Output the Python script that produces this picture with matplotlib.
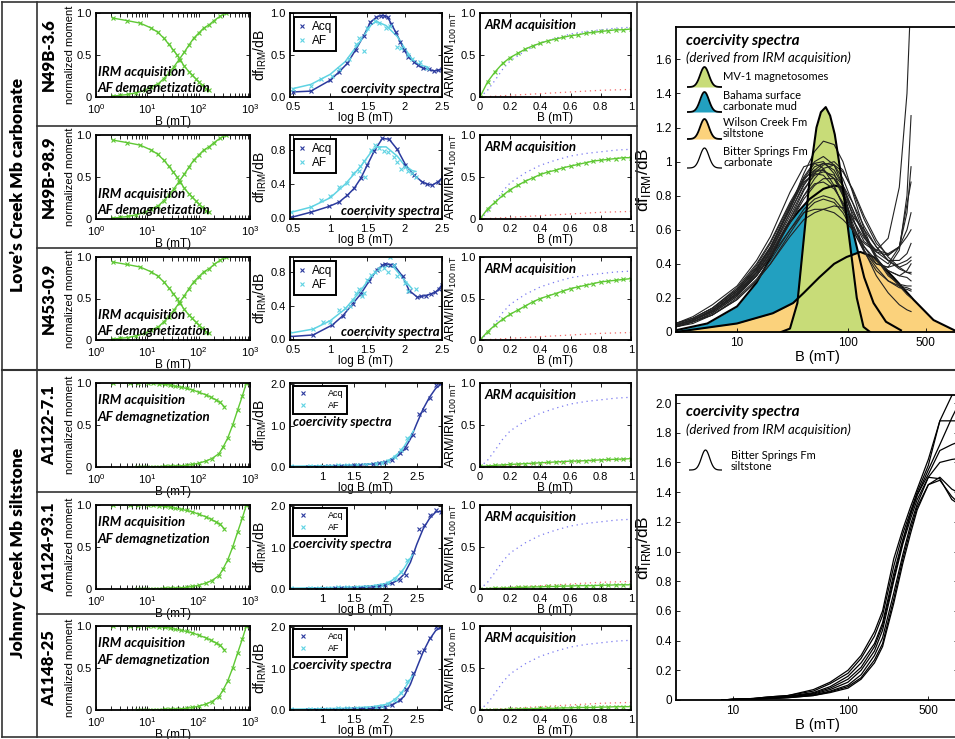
import numpy as np
import matplotlib.pyplot as plt
from matplotlib.lines import Line2D

# ---------------- data ----------------
groups = ['Love\u2019s Creek Mb carbonate', 'Johnny Creek Mb siltstone']
samples = ['N49B-3.6', 'N49B-98.9', 'N453-0.9', 'A1122-7.1', 'A1124-93.1', 'A1148-25']

# IRM acquisition / AF demagnetization (B in mT, normalized moment)
carb_irm_b = [2.1, 3, 4.2, 6, 9, 12, 16.5, 21, 26, 33, 41, 52, 65, 80, 100, 125, 160, 200, 260, 340]
carb_irm_m = [0.01, 0.02, 0.03, 0.05, 0.08, 0.12, 0.16, 0.22, 0.28, 0.36, 0.44, 0.53, 0.62, 0.70, 0.76, 0.82, 0.86, 0.91, 0.96, 1.0]
carb_af_b = [2.1, 4, 7.2, 12, 16, 21, 26, 32, 38, 44, 52, 65, 75, 87, 100, 118, 140, 160]
carb_af_m = [0.94, 0.91, 0.88, 0.82, 0.77, 0.70, 0.63, 0.56, 0.50, 0.44, 0.37, 0.30, 0.26, 0.22, 0.18, 0.14, 0.10, 0.08]
silt_irm_b = [6.2, 8, 10, 13, 17, 22, 28, 35, 45, 58, 75, 100, 137, 180, 250, 300, 365, 460, 575, 705, 850]
silt_irm_m = [0.0, 0.0, 0.0, 0.005, 0.005, 0.01, 0.01, 0.01, 0.015, 0.02, 0.03, 0.045, 0.07, 0.10, 0.16, 0.24, 0.34, 0.50, 0.68, 0.84, 1.0]
silt_af_b = [2.1, 4.5, 6.5, 10.4, 13, 17, 22, 28, 35, 45, 58, 75, 100, 137, 175, 215, 260, 315]
silt_af_m = [1.0, 1.0, 1.0, 1.0, 0.995, 0.99, 0.985, 0.975, 0.96, 0.95, 0.935, 0.92, 0.89, 0.86, 0.83, 0.80, 0.77, 0.72]

# coercivity spectra, carbonate rows (log B, df/dB)
r1_acq_x = [0.5, 0.74, 1.0, 1.12, 1.23, 1.34, 1.45, 1.54, 1.62, 1.68, 1.72, 1.77, 1.82, 1.88, 1.94, 1.99, 2.05, 2.12, 2.18, 2.25, 2.32, 2.39, 2.45, 2.5]
r1_acq_y = [0.06, 0.07, 0.20, 0.30, 0.40, 0.56, 0.73, 0.89, 0.95, 0.97, 0.97, 0.95, 0.87, 0.77, 0.66, 0.56, 0.48, 0.42, 0.38, 0.34, 0.33, 0.31, 0.32, 0.33]
r1_af_line_x = [0.5, 0.74, 1.0, 1.2, 1.4, 1.55, 1.62, 1.75, 1.9, 2.0, 2.1, 2.2, 2.3]
r1_af_line_y = [0.10, 0.15, 0.27, 0.42, 0.66, 0.86, 0.90, 0.85, 0.72, 0.58, 0.45, 0.38, 0.36]
r1_af_x = [0.5, 0.74, 0.88, 1.02, 1.12, 1.25, 1.35, 1.38, 1.45, 1.5, 1.6, 1.65, 1.75, 1.8, 1.9, 1.95, 2.05, 2.1, 2.2, 2.3]
r1_af_y = [0.10, 0.13, 0.22, 0.25, 0.33, 0.45, 0.63, 0.70, 0.55, 0.82, 0.90, 0.88, 0.82, 0.85, 0.60, 0.58, 0.50, 0.45, 0.42, 0.35]

r2_acq_x = [0.48, 0.74, 0.99, 1.12, 1.23, 1.32, 1.41, 1.5, 1.59, 1.7, 1.79, 1.9, 2.01, 2.12, 2.23, 2.3, 2.37, 2.45, 2.52]
r2_acq_y = [0.01, 0.07, 0.14, 0.19, 0.27, 0.35, 0.47, 0.63, 0.79, 0.94, 0.93, 0.81, 0.63, 0.51, 0.43, 0.40, 0.39, 0.43, 0.49]
r2_af_line_x = [0.48, 0.74, 1.0, 1.2, 1.4, 1.55, 1.62, 1.75, 1.9, 2.0, 2.1, 2.15]
r2_af_line_y = [0.07, 0.13, 0.24, 0.40, 0.60, 0.78, 0.84, 0.84, 0.73, 0.62, 0.56, 0.55]
r2_af_x = [0.48, 0.74, 0.88, 1.0, 1.12, 1.22, 1.3, 1.38, 1.4, 1.45, 1.47, 1.55, 1.6, 1.65, 1.72, 1.78, 1.85, 1.9, 1.95, 2.0, 2.05, 2.1, 2.15]
r2_af_y = [0.07, 0.13, 0.21, 0.26, 0.37, 0.42, 0.53, 0.55, 0.62, 0.67, 0.48, 0.80, 0.86, 0.83, 0.79, 0.78, 0.72, 0.66, 0.58, 0.60, 0.55, 0.53, 0.48]

r3_acq_x = [0.45, 0.77, 1.03, 1.17, 1.3, 1.41, 1.52, 1.63, 1.7, 1.74, 1.8, 1.85, 1.97, 2.06, 2.17, 2.22, 2.28, 2.35, 2.41, 2.46, 2.5]
r3_acq_y = [0.03, 0.05, 0.17, 0.28, 0.42, 0.54, 0.69, 0.83, 0.88, 0.90, 0.89, 0.89, 0.75, 0.58, 0.50, 0.51, 0.52, 0.54, 0.56, 0.60, 0.65]
r3_af_line_x = [0.45, 0.77, 1.0, 1.2, 1.4, 1.55, 1.7, 1.85, 2.0, 2.1]
r3_af_line_y = [0.07, 0.12, 0.22, 0.36, 0.57, 0.75, 0.88, 0.86, 0.70, 0.60]
r3_af_x = [0.45, 0.77, 0.9, 1.0, 1.12, 1.2, 1.27, 1.3, 1.35, 1.38, 1.42, 1.45, 1.5, 1.55, 1.6, 1.65, 1.72, 1.78, 1.8, 1.85, 1.9, 2.0, 2.05, 2.15]
r3_af_y = [0.07, 0.12, 0.20, 0.20, 0.35, 0.37, 0.40, 0.47, 0.55, 0.60, 0.52, 0.55, 0.70, 0.76, 0.80, 0.84, 0.85, 0.80, 0.98, 0.88, 0.75, 0.67, 0.58, 0.60]

# coercivity spectra, siltstone rows
silt_acq_x = [0.5, 0.78, 0.9, 1.0, 1.1, 1.2, 1.3, 1.4, 1.5, 1.6, 1.7, 1.8, 1.9, 2.0, 2.1, 2.24, 2.33, 2.44, 2.53, 2.61, 2.71, 2.81, 2.88]
r4_acq_y = [0.0, 0.0, 0.01, 0.01, 0.02, 0.02, 0.03, 0.03, 0.04, 0.05, 0.06, 0.07, 0.09, 0.12, 0.18, 0.33, 0.47, 0.78, 1.29, 1.37, 1.67, 1.98, 2.02]
r5_acq_y = [0.0, 0.0, 0.0, 0.01, 0.01, 0.02, 0.02, 0.02, 0.03, 0.03, 0.04, 0.05, 0.07, 0.09, 0.14, 0.22, 0.35, 0.90, 1.45, 1.55, 1.80, 1.90, 1.86]
r6_acq_y = [0.0, 0.0, 0.0, 0.0, 0.01, 0.01, 0.01, 0.02, 0.02, 0.03, 0.03, 0.04, 0.06, 0.08, 0.12, 0.25, 0.50, 0.90, 1.40, 1.45, 1.75, 2.0, 2.0]
silt_acq_line_x = [0.5, 1.0, 1.5, 1.8, 2.0, 2.1, 2.2, 2.3, 2.4, 2.5, 2.6, 2.7, 2.8, 2.9]
r4_acq_line_y = [0.0, 0.01, 0.04, 0.07, 0.12, 0.18, 0.27, 0.42, 0.68, 1.05, 1.40, 1.68, 1.90, 2.02]
r5_acq_line_y = [0.0, 0.01, 0.03, 0.05, 0.09, 0.14, 0.21, 0.36, 0.65, 1.08, 1.45, 1.70, 1.86, 1.88]
r6_acq_line_y = [0.0, 0.0, 0.02, 0.04, 0.08, 0.12, 0.20, 0.33, 0.62, 1.02, 1.40, 1.70, 1.92, 2.01]
silt_af_line_x = [0.5, 1.0, 1.5, 1.8, 2.0, 2.1, 2.2, 2.3, 2.4, 2.45]
silt_af_line_y = [0.02, 0.03, 0.05, 0.08, 0.13, 0.20, 0.32, 0.50, 0.75, 0.88]
silt_af_x = [0.5, 0.8, 0.95, 1.1, 1.25, 1.4, 1.55, 1.7, 1.85, 1.95, 2.05, 2.15, 2.25, 2.35]
silt_af_y = [0.02, 0.02, 0.03, 0.03, 0.04, 0.04, 0.05, 0.06, 0.08, 0.10, 0.15, 0.25, 0.40, 0.70]

# ARM acquisition (B in mT, ARM/IRM100mT)
arm_b = [0, 0.05, 0.1, 0.15, 0.2, 0.25, 0.3, 0.35, 0.4, 0.45, 0.5, 0.55, 0.6, 0.65, 0.7, 0.75, 0.8, 0.85, 0.9, 0.95, 1.0]
arm_r1 = [0, 0.18, 0.30, 0.40, 0.47, 0.52, 0.57, 0.61, 0.64, 0.67, 0.69, 0.71, 0.73, 0.74, 0.76, 0.77, 0.78, 0.79, 0.80, 0.80, 0.81]
arm_r2 = [0, 0.12, 0.20, 0.28, 0.35, 0.40, 0.45, 0.49, 0.53, 0.56, 0.58, 0.61, 0.63, 0.65, 0.67, 0.69, 0.70, 0.71, 0.72, 0.73, 0.73]
arm_r3 = [0, 0.10, 0.18, 0.25, 0.31, 0.36, 0.41, 0.46, 0.50, 0.53, 0.56, 0.59, 0.62, 0.64, 0.66, 0.68, 0.70, 0.71, 0.72, 0.73, 0.74]
arm_r4 = [0.01, 0.01, 0.02, 0.025, 0.03, 0.035, 0.04, 0.045, 0.05, 0.055, 0.06, 0.065, 0.07, 0.072, 0.075, 0.08, 0.085, 0.09, 0.092, 0.095, 0.1]
arm_r5 = [0.0, 0.005, 0.01, 0.01, 0.015, 0.02, 0.02, 0.025, 0.025, 0.03, 0.03, 0.035, 0.035, 0.04, 0.04, 0.04, 0.045, 0.045, 0.05, 0.05, 0.05]
arm_r6 = [0.0, 0.0, 0.005, 0.005, 0.01, 0.01, 0.015, 0.015, 0.02, 0.02, 0.02, 0.025, 0.025, 0.03, 0.03, 0.03, 0.035, 0.035, 0.04, 0.04, 0.04]
ref_blue_b = [0, 0.05, 0.1, 0.15, 0.2, 0.3, 0.4, 0.5, 0.6, 0.7, 0.8, 0.9, 1.0]
ref_blue = [0, 0.08, 0.20, 0.33, 0.43, 0.55, 0.64, 0.70, 0.75, 0.78, 0.80, 0.82, 0.83]
ref_red_b = [0, 0.2, 0.4, 0.6, 0.8, 1.0]
ref_red = [0, 0.02, 0.04, 0.06, 0.08, 0.09]

# big panel, carbonate: reference spectra (B in mT)
mv1_b = [25, 30, 35, 40, 46, 52, 57, 63, 69, 76, 83, 91, 105, 120, 138, 158]
mv1_y = [0.0, 0.02, 0.17, 0.55, 0.95, 1.20, 1.29, 1.32, 1.27, 1.16, 1.0, 0.82, 0.50, 0.20, 0.03, 0.0]
bahama_b = [2.8, 5.4, 10, 15, 21, 28, 36, 45, 60, 75, 88, 100, 112, 124, 140, 170, 220, 300]
bahama_y = [0.01, 0.05, 0.15, 0.29, 0.46, 0.62, 0.71, 0.78, 0.84, 0.86, 0.85, 0.72, 0.58, 0.46, 0.32, 0.17, 0.06, 0.01]
wilson_b = [2.8, 10, 21, 32, 40, 55, 75, 97, 129, 170, 257, 389, 590, 910]
wilson_y = [0.0, 0.05, 0.11, 0.17, 0.23, 0.32, 0.40, 0.44, 0.47, 0.44, 0.32, 0.19, 0.07, 0.01]

carb_grid = [2.8, 4, 6, 10, 15, 20, 30, 40, 50, 60, 75, 90, 110, 140, 180, 230, 290, 340, 370]
carb_curves = [
    [0.05, 0.08, 0.14, 0.25, 0.38, 0.50, 0.72, 0.90, 0.99, 1.00, 0.93, 0.80, 0.64, 0.47, 0.36, 0.30, 0.27, 0.26, 0.25],
    [0.04, 0.07, 0.13, 0.24, 0.37, 0.49, 0.73, 0.93, 1.06, 1.12, 1.10, 1.00, 0.82, 0.60, 0.43, 0.33, 0.28, 0.27, 0.27],
    [0.05, 0.09, 0.16, 0.27, 0.42, 0.56, 0.82, 0.97, 0.99, 0.96, 0.86, 0.74, 0.60, 0.47, 0.40, 0.38, 0.40, 0.42, 0.44],
    [0.04, 0.07, 0.12, 0.23, 0.35, 0.47, 0.70, 0.87, 0.94, 0.95, 0.90, 0.80, 0.66, 0.53, 0.48, 0.55, 0.85, 1.40, 2.00],
    [0.03, 0.06, 0.11, 0.21, 0.33, 0.45, 0.66, 0.83, 0.93, 0.98, 1.00, 0.95, 0.83, 0.66, 0.52, 0.45, 0.50, 0.70, 0.97],
    [0.04, 0.07, 0.12, 0.22, 0.34, 0.45, 0.64, 0.78, 0.86, 0.90, 0.90, 0.84, 0.72, 0.57, 0.45, 0.40, 0.50, 0.75, 0.88],
    [0.03, 0.06, 0.10, 0.20, 0.31, 0.42, 0.60, 0.72, 0.78, 0.80, 0.78, 0.72, 0.62, 0.50, 0.40, 0.38, 0.48, 0.80, 1.27],
    [0.04, 0.07, 0.12, 0.22, 0.33, 0.44, 0.60, 0.70, 0.72, 0.72, 0.70, 0.66, 0.60, 0.52, 0.47, 0.45, 0.50, 0.60, 0.70],
    [0.03, 0.05, 0.10, 0.19, 0.30, 0.40, 0.56, 0.66, 0.70, 0.72, 0.74, 0.73, 0.68, 0.60, 0.50, 0.42, 0.38, 0.40, 0.42],
    [0.05, 0.08, 0.14, 0.25, 0.39, 0.52, 0.75, 0.88, 0.93, 0.92, 0.85, 0.75, 0.62, 0.50, 0.42, 0.36, 0.33, 0.32, 0.30],
    [0.04, 0.07, 0.12, 0.23, 0.36, 0.48, 0.70, 0.86, 0.95, 0.99, 0.98, 0.90, 0.76, 0.58, 0.44, 0.34, 0.27, 0.22, 0.20],
    [0.04, 0.07, 0.13, 0.24, 0.37, 0.50, 0.74, 0.91, 1.00, 1.03, 0.98, 0.86, 0.68, 0.48, 0.33, 0.23, 0.16, 0.13, 0.12],
    [0.05, 0.08, 0.14, 0.26, 0.40, 0.53, 0.76, 0.90, 0.95, 0.95, 0.90, 0.82, 0.70, 0.57, 0.47, 0.42, 0.42, 0.46, 0.52],
    [0.03, 0.06, 0.11, 0.21, 0.33, 0.44, 0.64, 0.80, 0.90, 0.96, 0.98, 0.94, 0.84, 0.68, 0.54, 0.44, 0.38, 0.35, 0.34],
    [0.04, 0.07, 0.12, 0.22, 0.35, 0.46, 0.66, 0.80, 0.87, 0.88, 0.84, 0.76, 0.66, 0.55, 0.48, 0.46, 0.50, 0.56, 0.60],
    [0.03, 0.06, 0.10, 0.19, 0.30, 0.40, 0.58, 0.70, 0.76, 0.78, 0.76, 0.70, 0.60, 0.48, 0.38, 0.30, 0.26, 0.25, 0.24],
    [0.04, 0.07, 0.13, 0.24, 0.37, 0.49, 0.72, 0.89, 0.97, 0.99, 0.95, 0.86, 0.72, 0.56, 0.43, 0.36, 0.33, 0.36, 0.40],
    [0.04, 0.07, 0.12, 0.22, 0.35, 0.47, 0.68, 0.84, 0.92, 0.94, 0.92, 0.86, 0.76, 0.62, 0.50, 0.42, 0.37, 0.35, 0.35],
]

silt_grid = [8, 10, 15, 20, 30, 50, 70, 100, 130, 170, 200, 250, 300, 350, 400, 500, 630, 800, 1000]
silt_curves = [
    [0, 0.005, 0.01, 0.02, 0.03, 0.07, 0.12, 0.20, 0.30, 0.46, 0.60, 0.95, 1.15, 1.30, 1.42, 1.62, 1.88, 2.05, 2.20],
    [0, 0.005, 0.01, 0.02, 0.03, 0.06, 0.11, 0.18, 0.28, 0.43, 0.57, 0.90, 1.12, 1.27, 1.40, 1.58, 1.88, 1.88, 1.88],
    [0, 0.005, 0.01, 0.015, 0.025, 0.05, 0.09, 0.16, 0.25, 0.38, 0.52, 0.85, 1.08, 1.25, 1.38, 1.52, 1.68, 1.72, 1.75],
    [0, 0.004, 0.008, 0.012, 0.02, 0.04, 0.07, 0.12, 0.20, 0.33, 0.47, 0.80, 1.05, 1.22, 1.35, 1.50, 1.60, 1.62, 1.63],
    [0, 0.003, 0.006, 0.01, 0.018, 0.035, 0.06, 0.10, 0.17, 0.30, 0.42, 0.72, 0.98, 1.18, 1.32, 1.50, 1.49, 1.35, 1.30],
    [0, 0.003, 0.006, 0.01, 0.016, 0.03, 0.055, 0.09, 0.15, 0.27, 0.38, 0.68, 0.95, 1.15, 1.30, 1.45, 1.48, 1.37, 1.30],
    [0, 0.003, 0.005, 0.009, 0.015, 0.03, 0.05, 0.08, 0.14, 0.25, 0.36, 0.65, 0.92, 1.12, 1.28, 1.45, 1.50, 1.42, 1.38],
    [0, 0.004, 0.008, 0.014, 0.022, 0.045, 0.08, 0.14, 0.22, 0.36, 0.50, 0.82, 1.07, 1.25, 1.38, 1.55, 1.72, 1.90, 2.05],
]

# ---------------- style ----------------
plt.rcParams['font.family'] = ['Liberation Sans', 'DejaVu Sans']
plt.rcParams['mathtext.fontset'] = 'custom'
plt.rcParams['mathtext.rm'] = 'Liberation Sans'
hum = 'Lato'

c_green = '#5fc834'
c_acq = '#2b3a9e'
c_af = '#5fd3e3'
c_mv1 = '#c8dc78'
c_bah = '#22a0c0'
c_wil = '#fbd27c'

W, H = 955, 739
fig = plt.figure(figsize=(W / 100, H / 100), dpi=100)


def box(x0, y0, x1, y1):
    return [x0 / W, 1 - y1 / H, (x1 - x0) / W, (y1 - y0) / H]


def style(ax, fs=8):
    for s in ax.spines.values():
        s.set_linewidth(1.3)
    ax.tick_params(direction='in', which='both', top=True, right=True,
                   labelsize=fs, length=3, width=0.6)
    ax.tick_params(axis='x', pad=3.5)
    ax.tick_params(axis='y', pad=3)


def hline(x0, x1, y, lw=1.2, color='#333333'):
    fig.add_artist(Line2D([x0 / W, x1 / W], [1 - y / H, 1 - y / H], color=color, lw=lw))


def vline(x, y0, y1, lw=1.2, color='#333333'):
    fig.add_artist(Line2D([x / W, x / W], [1 - y0 / H, 1 - y1 / H], color=color, lw=lw))


rows = [(13, 97), (135, 219), (257, 340), (383, 467), (505, 589), (626, 710)]
col1 = (96, 250)
col2 = (290, 442)
col3 = (480, 631)

cs_data = [
    (r1_acq_x, r1_acq_y, r1_acq_x, r1_acq_y, r1_af_line_x, r1_af_line_y, r1_af_x, r1_af_y),
    (r2_acq_x, r2_acq_y, r2_acq_x, r2_acq_y, r2_af_line_x, r2_af_line_y, r2_af_x, r2_af_y),
    (r3_acq_x, r3_acq_y, r3_acq_x, r3_acq_y, r3_af_line_x, r3_af_line_y, r3_af_x, r3_af_y),
    (silt_acq_x, r4_acq_y, silt_acq_line_x, r4_acq_line_y, silt_af_line_x, silt_af_line_y, silt_af_x, silt_af_y),
    (silt_acq_x, r5_acq_y, silt_acq_line_x, r5_acq_line_y, silt_af_line_x, silt_af_line_y, silt_af_x, silt_af_y),
    (silt_acq_x, r6_acq_y, silt_acq_line_x, r6_acq_line_y, silt_af_line_x, silt_af_line_y, silt_af_x, silt_af_y),
]
arm_rows = [arm_r1, arm_r2, arm_r3, arm_r4, arm_r5, arm_r6]

for i, (y0, y1) in enumerate(rows):
    carb = i < 3

    # --- IRM acquisition / AF demag
    ax = fig.add_axes(box(col1[0], y0, col1[1], y1))
    if carb:
        ib, im, ab, am = carb_irm_b, carb_irm_m, carb_af_b, carb_af_m
    else:
        ib, im, ab, am = silt_irm_b, silt_irm_m, silt_af_b, silt_af_m
    ax.plot(ib, im, '-x', color=c_green, lw=1, ms=3.5, mew=0.8)
    ax.plot(ab, am, '-x', color=c_green, lw=1, ms=3.5, mew=0.8)
    ax.set_xscale('log')
    ax.set_xlim(1, 1000)
    ax.set_ylim(0, 1)
    ax.set_yticks([0, 0.5, 1.0])
    ax.set_yticklabels(['0', '0.5', '1.0'])
    style(ax)
    ax.set_xlabel('B (mT)', fontsize=8.5, labelpad=0)
    ax.set_ylabel('normalized moment', fontsize=8, labelpad=1)
    if carb:
        ty1, ty2 = 0.30, 0.11
    else:
        ty1, ty2 = 0.80, 0.60
    ax.text(0.01, ty1, 'IRM acquisition', transform=ax.transAxes, fontsize=9.5,
            family=hum, weight='bold', style='italic', va='center')
    ax.text(0.01, ty2, 'AF demagnetization', transform=ax.transAxes, fontsize=9.5,
            family=hum, weight='bold', style='italic', va='center')

    # --- coercivity spectra
    ax = fig.add_axes(box(col2[0], y0, col2[1], y1))
    mx, my, lx, ly, afl_x, afl_y, afx, afy = cs_data[i]
    ax.plot(lx, ly, '-', color=c_acq, lw=1.1)
    ax.plot(afl_x, afl_y, '-', color=c_af, lw=1.1)
    ax.plot(mx, my, 'x', color=c_acq, ms=3.5, mew=0.8, label='Acq')
    ax.plot(afx, afy, 'x', color=c_af, ms=3.5, mew=0.8, label='AF')
    style(ax)
    if carb:
        ax.set_xlim(0.46, 2.5)
        ax.set_xticks([0.5, 1, 1.5, 2, 2.5])
        ax.set_xticklabels(['0.5', '1', '1.5', '2', '2.5'])
        if i == 0:
            ax.set_ylim(0, 1.0)
            ax.set_yticks([0, 0.5, 1.0])
            ax.set_yticklabels(['0.0', '0.5', '1.0'])
        else:
            ax.set_ylim(-0.01, 0.98)
            ax.set_yticks([0, 0.4, 0.8])
            ax.set_yticklabels(['0.0', '0.4', '0.8'])
        leg = ax.legend(loc='upper left', fontsize=8.5, handlelength=0.8, handletextpad=0.4,
                        borderpad=0.35, labelspacing=0.2, fancybox=False, framealpha=1,
                        borderaxespad=0.3)
        ax.text(0.985, 0.1, 'coercivity spectra', transform=ax.transAxes, fontsize=9.5,
                family=hum, weight='bold', style='italic', ha='right', va='center')
    else:
        ax.set_xlim(0.49, 2.9)
        ax.set_xticks([1, 1.5, 2, 2.5])
        ax.set_xticklabels(['1', '1.5', '2', '2.5'])
        ax.set_ylim(0, 2.03)
        ax.set_yticks([0, 1, 2])
        ax.set_yticklabels(['0.0', '1.0', '2.0'])
        leg = ax.legend(loc='upper left', fontsize=6.5, handlelength=1.5, handletextpad=2.0,
                        borderpad=0.4, labelspacing=0.3, fancybox=False, framealpha=1,
                        borderaxespad=0.3)
        ax.text(0.02, 0.54, 'coercivity spectra', transform=ax.transAxes, fontsize=9.5,
                family=hum, weight='bold', style='italic', ha='left', va='center')
    leg.get_frame().set_edgecolor('black')
    leg.get_frame().set_linewidth(1.4)
    ax.set_xlabel('log B (mT)', fontsize=8.5, labelpad=0)
    ax.set_ylabel('df$_{\\mathregular{IRM}}$/dB', fontsize=10, labelpad=1)

    # --- ARM acquisition
    ax = fig.add_axes(box(col3[0], y0, col3[1], y1))
    ax.plot(ref_blue_b, ref_blue, color='#7a7af0', lw=0.9, ls=(0, (1, 3)))
    ax.plot(ref_red_b, ref_red, color='#f06a6a', lw=0.9, ls=(0, (1, 3)))
    ax.plot(arm_b, arm_rows[i], '-x', color=c_green, lw=1, ms=3.5, mew=0.8)
    ax.set_xlim(0, 1)
    ax.set_ylim(0, 1)
    ax.set_xticks([0, 0.2, 0.4, 0.6, 0.8, 1])
    ax.set_xticklabels(['0', '0.2', '0.4', '0.6', '0.8', '1'])
    ax.set_yticks([0, 0.5, 1])
    ax.set_yticklabels(['0', '0.5', '1.0'])
    style(ax)
    ax.set_xlabel('B (mT)', fontsize=8.5, labelpad=0)
    ax.set_ylabel('ARM/IRM$_{\\mathregular{100\\ mT}}$', fontsize=9, labelpad=1)
    ax.text(0.03, 0.86, 'ARM acquisition', transform=ax.transAxes, fontsize=9.5,
            family=hum, weight='bold', style='italic', va='center')

    # sample label
    fig.text(49 / W, 1 - (y0 + y1) / 2 / H, samples[i], rotation=90, fontsize=12,
             weight='heavy', family=hum, ha='center', va='center')

# group labels
fig.text(18 / W, 1 - 185 / H, groups[0], rotation=90, fontsize=12.5, weight='heavy',
         family=hum, ha='center', va='center')
fig.text(18 / W, 1 - 553 / H, groups[1], rotation=90, fontsize=12.5, weight='heavy',
         family=hum, ha='center', va='center')


def bell_icon(x0, y0, x1, y1, fc):
    ia = fig.add_axes(box(x0, y0, x1, y1))
    t = np.linspace(-3, 3, 60)
    g = np.exp(-t ** 2 / 1.2) + 0.05
    if fc is None:
        ia.plot(t, g, color='black', lw=0.9)
    else:
        ia.fill_between(t, 0.05, g, color=fc, lw=0)
        ia.plot(t, g, color='black', lw=1.3)
    ia.set_xlim(-3.1, 3.1)
    ia.set_ylim(0, 1.1)
    ia.axis('off')


# ---------------- big panel: carbonate ----------------
ax = fig.add_axes(box(676, 27, 958, 332))
ax.fill_between(bahama_b, 0, bahama_y, color=c_bah, lw=0)
ax.plot(bahama_b, bahama_y, color='black', lw=1.5)
ax.fill_between(wilson_b, 0, wilson_y, color=c_wil, lw=0)
ax.plot(wilson_b, wilson_y, color='black', lw=1.5)
for cv in carb_curves:
    ax.plot(carb_grid, cv, color='#222222', lw=0.8)
ax.fill_between(mv1_b, 0, mv1_y, color=c_mv1, lw=0)
ax.plot(mv1_b, mv1_y, color='black', lw=1.5)
ax.set_xscale('log')
ax.set_xlim(2.82, 980)
ax.set_ylim(0, 1.79)
ax.set_xticks([10, 100, 500])
ax.set_xticklabels(['10', '100', '500'])
ax.xaxis.set_minor_locator(plt.NullLocator())
ax.set_yticks([0, 0.2, 0.4, 0.6, 0.8, 1, 1.2, 1.4, 1.6])
ax.set_yticklabels(['0', '0.2', '0.4', '0.6', '0.8', '1', '1.2', '1.4', '1.6'])
style(ax, fs=8.5)
ax.tick_params(top=False, right=False)
ax.spines['right'].set_visible(False)
ax.set_xlabel('B (mT)', fontsize=10.5, labelpad=1)
ax.set_ylabel('df$_{\\mathregular{IRM}}$/dB', fontsize=12.5, labelpad=2)
ax.text(0.035, 0.955, 'coercivity spectra', transform=ax.transAxes, fontsize=11,
        family=hum, weight='bold', style='italic', va='center')
ax.text(0.035, 0.90, '(derived from IRM acquisition)', transform=ax.transAxes,
        fontsize=9.5, family=hum, style='italic', va='center')
legend_items = [('MV-1 magnetosomes', c_mv1, 66, 88),
                ('Bahama surface\ncarbonate mud', c_bah, 91, 113),
                ('Wilson Creek Fm\nsiltstone', c_wil, 118, 140),
                ('Bitter Springs Fm\ncarbonate', None, 147, 169)]
for lab, fc, ya, yb in legend_items:
    bell_icon(687, ya, 722, yb, fc)
    fig.text(723 / W, 1 - ((ya + yb) / 2 - 1) / H, lab, fontsize=8, family=hum,
             va='center', linespacing=0.95)

# ---------------- big panel: siltstone ----------------
ax = fig.add_axes(box(676, 395, 958, 700))
for cv in silt_curves:
    ax.plot(silt_grid, cv, color='black', lw=0.9)
ax.set_xscale('log')
ax.set_xlim(3.19, 906)
ax.set_ylim(0, 2.054)
ax.set_xticks([10, 100, 500])
ax.set_xticklabels(['10', '100', '500'])
ax.xaxis.set_minor_locator(plt.NullLocator())
ax.set_yticks(np.arange(0, 2.01, 0.2))
ax.set_yticklabels(['0'] + ['%.1f' % v for v in np.arange(0.2, 2.01, 0.2)])
style(ax, fs=8.5)
ax.tick_params(top=False)
ax.set_xlabel('B (mT)', fontsize=10.5, labelpad=1)
ax.set_ylabel('df$_{\\mathregular{IRM}}$/dB', fontsize=12.5, labelpad=2)
ax.text(0.035, 0.944, 'coercivity spectra', transform=ax.transAxes, fontsize=11,
        family=hum, weight='bold', style='italic', va='center')
ax.text(0.035, 0.885, '(derived from IRM acquisition)', transform=ax.transAxes,
        fontsize=9.5, family=hum, style='italic', va='center')
bell_icon(689, 449, 722, 471, None)
fig.text(731 / W, 1 - 461 / H, 'Bitter Springs Fm\nsiltstone', fontsize=8, family=hum,
         va='center', linespacing=1.0)

# ---------------- table lines ----------------
hline(2, 955, 2)
hline(2, 955, 737)
vline(2, 2, 737)
vline(37, 2, 737)
vline(637, 2, 737)
hline(2, 955, 370, lw=1.5)
for yy in (126, 248, 492, 614):
    hline(37, 637, yy)

fig.savefig('out.png', dpi=100)
